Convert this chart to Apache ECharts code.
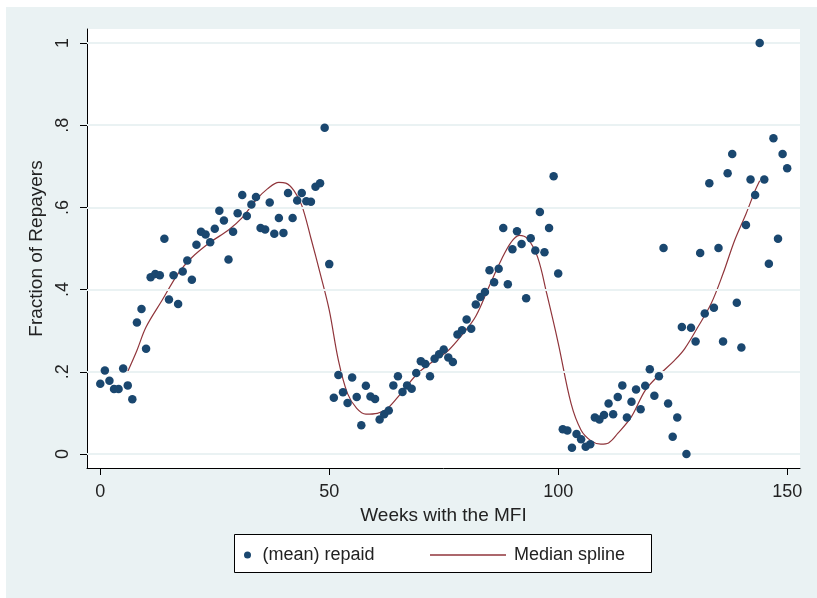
<!DOCTYPE html>
<html>
<head>
<meta charset="utf-8">
<script src="https://cdn.jsdelivr.net/npm/echarts@6/dist/echarts.min.js"></script>
<style>
  html, body { margin: 0; padding: 0; background: #fff; }
  #chart { width: 817px; height: 598px; }
</style>
</head>
<body>
<div id="chart"></div>
<script>
// weekly mean repayment, weeks 0..150
const weeks = [];
for (let w = 0; w <= 150; w++) weeks.push(w);

const repaid = [
  0.171, 0.203, 0.178, 0.158, 0.158, 0.208, 0.167, 0.133, 0.320, 0.353,
  0.256, 0.430, 0.438, 0.435, 0.524, 0.376, 0.435, 0.365, 0.444, 0.471,
  0.424, 0.509, 0.541, 0.534, 0.515, 0.548, 0.592, 0.568, 0.473, 0.541,
  0.586, 0.630, 0.579, 0.607, 0.625, 0.550, 0.546, 0.612, 0.536, 0.574,
  0.538, 0.635, 0.574, 0.617, 0.635, 0.615, 0.614, 0.650, 0.659, 0.794,
  0.462, 0.137, 0.192, 0.150, 0.124, 0.186, 0.139, 0.070, 0.166, 0.140,
  0.134, 0.084, 0.097, 0.106, 0.167, 0.189, 0.151, 0.167, 0.159, 0.197,
  0.226, 0.219, 0.189, 0.232, 0.243, 0.254, 0.235, 0.224, 0.291, 0.301,
  0.327, 0.305, 0.364, 0.382, 0.394, 0.447, 0.418, 0.451, 0.550, 0.413,
  0.498, 0.542, 0.511, 0.379, 0.525, 0.495, 0.589, 0.491, 0.550, 0.676,
  0.439, 0.060, 0.057, 0.015, 0.049, 0.036, 0.018, 0.024, 0.089, 0.084,
  0.095, 0.123, 0.097, 0.139, 0.167, 0.089, 0.127, 0.157, 0.109, 0.166,
  0.206, 0.142, 0.189, 0.501, 0.123, 0.042, 0.089, 0.309, 0.000, 0.307,
  0.274, 0.489, 0.342, 0.659, 0.356, 0.501, 0.274, 0.683, 0.730, 0.368,
  0.259, 0.557, 0.668, 0.630, 1.000, 0.668, 0.463, 0.768, 0.524, 0.730,
  0.695
];

// median spline
const splineX = [6, 8, 10, 13.5, 17, 20, 24, 28, 31, 34, 36.5, 39, 40.5, 42.3, 44, 46, 48, 50, 52, 54,
  56, 58, 60.5, 62.7, 65.6, 69.3, 73, 76, 79, 82, 85, 87.5, 89.7, 91.5, 93.3, 95.5, 97.5, 100,
  102.8, 105, 107.2, 109.3, 111, 113, 116, 119, 122, 125.4, 127.6, 130.5, 133.4, 136, 138.5, 141, 143, 144];
const splineY = [0.201, 0.252, 0.309, 0.374, 0.439, 0.478, 0.515, 0.545, 0.575, 0.618, 0.645, 0.661, 0.659, 0.641, 0.605, 0.525, 0.440, 0.350, 0.228, 0.147,
  0.111, 0.097, 0.099, 0.111, 0.147, 0.196, 0.228, 0.252, 0.290, 0.335, 0.410, 0.471, 0.515, 0.532, 0.524, 0.479, 0.390, 0.270,
  0.123, 0.058, 0.032, 0.024, 0.027, 0.050, 0.091, 0.155, 0.192, 0.228, 0.256, 0.309, 0.366, 0.439, 0.519, 0.584, 0.641, 0.665];

const xTicks = [0, 50, 100, 150];
const yTicks = [0, 0.2, 0.4, 0.6, 0.8, 1];

const navy = "#1a476f";
const maroon = "#90353b";
const panel = "#eaf2f3";
const font = "'Liberation Sans', Arial, sans-serif";

const chart = echarts.init(document.getElementById("chart"), null, { renderer: "canvas" });

chart.setOption({
  backgroundColor: "#fff",
  animation: false,
  graphic: [
    { type: "rect", z: -10, shape: { x: 6, y: 7, width: 811, height: 591 }, style: { fill: panel } },
    { type: "rect", z: 10, shape: { x: 234.5, y: 534.5, width: 417, height: 38 }, style: { fill: "#fff", stroke: "#000", lineWidth: 1 } }
  ],
  grid: {
    left: 87, right: 17, top: 29, bottom: 130,
    show: true, backgroundColor: "#fff", borderWidth: 0
  },
  xAxis: {
    type: "value",
    min: -2.9, max: 152.8,
    name: "Weeks with the MFI",
    nameLocation: "middle",
    nameGap: 36,
    nameTextStyle: { fontFamily: font, fontSize: 19, color: "#222" },
    axisLine: { show: true, onZero: false, lineStyle: { color: "#000", width: 1 } },
    axisTick: { show: true, length: 7, lineStyle: { color: "#000" }, customValues: xTicks },
    axisLabel: { fontFamily: font, fontSize: 18, color: "#222", margin: 15, customValues: xTicks },
    splitLine: { show: false }
  },
  yAxis: {
    type: "value",
    min: -0.034, max: 1.034,
    name: "Fraction of Repayers",
    nameLocation: "middle",
    nameGap: 36,
    nameRotate: 90,
    nameTextStyle: { fontFamily: font, fontSize: 19, color: "#222" },
    axisLine: { show: true, onZero: false, lineStyle: { color: "#000", width: 1 } },
    axisTick: { show: true, length: 7, lineStyle: { color: "#000" }, customValues: yTicks },
    axisLabel: {
      fontFamily: font, fontSize: 18, color: "#222", margin: 15, rotate: 90,
      customValues: yTicks,
      formatter: (v) => (v === 0 ? "0" : v === 1 ? "1" : String(v).replace(/^0/, ""))
    },
    splitLine: { show: false }
  },
  legend: [
    {
      data: ["(mean) repaid"],
      left: 239, top: 541, z: 20,
      itemWidth: 20, itemHeight: 7, icon: "circle",
      textStyle: { fontFamily: font, fontSize: 18, color: "#222" }
    },
    {
      data: ["Median spline"],
      left: 425, top: 541, z: 20,
      itemWidth: 76, itemHeight: 1.3, icon: "rect",
      textStyle: { fontFamily: font, fontSize: 18, color: "#222", padding: [0, 0, 0, 3] }
    }
  ],
  series: [
    {
      name: "grid",
      type: "line",
      silent: true,
      z: 0,
      data: [],
      markLine: {
        silent: true, symbol: "none", label: { show: false },
        lineStyle: { color: panel, width: 2, type: "solid" },
        data: yTicks.map((v) => ({ yAxis: v }))
      }
    },
    {
      name: "(mean) repaid",
      type: "scatter",
      symbol: "circle",
      symbolSize: 8.5,
      z: 5,
      itemStyle: { color: navy, opacity: 1 },
      data: weeks.map((w, i) => [w, repaid[i]])
    },
    {
      name: "Median spline",
      type: "line",
      symbol: "none",
      smooth: 0.35,
      z: 4,
      lineStyle: { color: maroon, width: 1.2 },
      itemStyle: { color: maroon },
      data: splineX.map((x, i) => [x, splineY[i]])
    }
  ]
});
</script>
</body>
</html>
